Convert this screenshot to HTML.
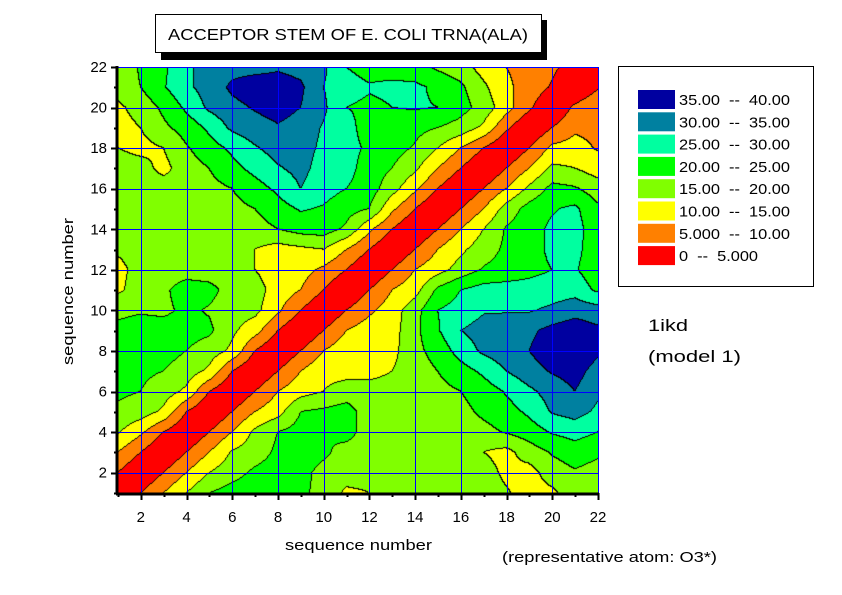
<!DOCTYPE html>
<html><head><meta charset="utf-8"><style>
html,body{margin:0;padding:0;background:#fff;}
#wrap{position:relative;width:842px;height:595px;overflow:hidden;font-family:"Liberation Sans",Arial,sans-serif;}
canvas{position:absolute;left:118px;top:67px;}
svg{position:absolute;left:0;top:0;}
</style></head><body><div id="wrap">
<canvas id="c" width="480" height="426"></canvas>
<svg width="842" height="595" xmlns="http://www.w3.org/2000/svg" font-family="Liberation Sans, Arial, sans-serif">
<g id="grid" stroke="#0000ff" stroke-width="1"></g>
<g id="ax" stroke="#000"></g>
<g id="lbl" font-size="15" fill="#000"></g>
<rect x="161" y="20" width="386" height="40" fill="#000"/>
<rect x="155.5" y="14.5" width="386" height="38" fill="#fff" stroke="#000"/>
<text x="168" y="40" font-size="16" textLength="360" lengthAdjust="spacingAndGlyphs">ACCEPTOR STEM OF E. COLI TRNA(ALA)</text>
<rect x="618.5" y="66.5" width="195" height="220" fill="#fff" stroke="#000"/>
<g id="leg" font-size="15"></g>
<text x="285" y="550" font-size="15" textLength="147" lengthAdjust="spacingAndGlyphs">sequence number</text>
<text transform="translate(73,365) rotate(-90)" font-size="15" textLength="147" lengthAdjust="spacingAndGlyphs">sequence number</text>
<text x="648" y="331" font-size="17" textLength="40" lengthAdjust="spacingAndGlyphs">1ikd</text>
<text x="648" y="362" font-size="17" textLength="93" lengthAdjust="spacingAndGlyphs">(model 1)</text>
<text x="502" y="562" font-size="15" textLength="215" lengthAdjust="spacingAndGlyphs">(representative atom: O3*)</text>
</svg>
</div>
<script>
var M=[
[17,20.5,24,29,32,33,33,34,33,31,25,23,23,22,19,17,13,10,8,6,3,0],
[17,20,24.5,29,32,36,38,38,36,30,27,25.5,26,26,24,21,16,11,8,4.5,0,4.5],
[14,17,21,26,31,33.5,35.5,37,35,31,25,24,25,25.5,25,22,18,12,6,0,6,9],
[13,15,19,22,26,31,33,34.5,33,29.5,27,22.5,22.5,21.5,20,18,14,6,0,5,9,8.5],
[15,13.5,15,19.5,23,26,29.5,32,32,29,27,24,22,19.5,15,10,5,0,5,11,12,9.5],
[17.5,17,13.5,17.5,20,23.5,26.5,29.5,31.5,28,27,22.5,20,16,10,5,0,5,10,16,15,12.5],
[17.5,17.5,17.5,17.5,18.5,20,23,26,30,27,25,22.5,17,11,5,0,5,10,16,21.5,20.5,17.5],
[17.5,17.5,17.5,17.5,17.5,18.5,20,23,25.5,24.5,22,20,11,5,0,5,10,17,22,24.5,26,21],
[17.5,17.5,17.5,17.5,17.5,17.5,18,20,22,22.5,19,11,5,0,5,10,15,20.5,23,26,27,22],
[16,17.5,17.5,17.5,17.5,17.5,15,13,14,15,10,5,0,5,10,14,17.5,21,23,26,26.5,22],
[13,17.5,17.5,17.5,17.5,17.5,15,12.5,12,9,5,0,5,10,13,17,20.5,22,23.5,25,25.5,22],
[14,17.5,19,22.5,21.5,18,17,13,10,5,0,5,10,13,21,25,27,27,27,27.5,28,24],
[19,19.5,19,21,19.5,17.5,16.5,11,5,0,5,9,12.5,18,25,27,29.5,29.5,29.5,31,33,32],
[21,22,22,22,21,16,12,5,0,5,10,12.5,13,18.5,24.5,30,32,33,34,36.5,38,36],
[21.5,22.5,22,20,17.5,14,5,0,5,10,13,12,13.5,18.5,22,27,31,33,35,38,39,36],
[21,21,20,17.5,14,5,0,5,10,13.5,13,13,15,17.5,20,23,26,30,33,35.5,37,33],
[21,20,17.5,14,5,0,5,10,13,15,17.5,17.5,17.5,17.5,18.5,20,22.5,25.5,29,32,35,31],
[19,17.5,14,5,0,5,10,13,20,21,22,17.5,17.5,17.5,17.5,18.5,21,23,26,30.5,32,29],
[15.5,11,5,0,5,10,16,20,22,20,22,17.5,17.5,17.5,17.5,17.5,18.5,20.5,22.5,25.5,27,25],
[10,5,0,5,10,15.5,17.5,21,22.5,21,18,17.5,17.5,17.5,17.5,17.5,15,13.5,17.5,20.5,22.5,21],
[5,0,5,10,15,18,21,22.5,21.5,18.5,17.5,17,17.5,17.5,17.5,17.5,17,14,13,17.5,19.5,18],
[0,5,10,15,20,22,23,22.5,21,18.5,14,15,17,17.5,17.5,17.5,17.5,15.5,13,14,17.5,17.5]];
var cols=[[255,0,0],[255,128,0],[255,255,0],[128,255,0],[0,255,0],[0,255,160],[0,128,160],[0,0,160]];
var W=480,H=426,cv=document.getElementById('c'),ctx=cv.getContext('2d');
var img=ctx.createImageData(W,H),B=new Int8Array(W*H);
function val(gx,gy){var r=(22-gy);var i=Math.floor(gx-1),j=Math.floor(r);
if(i>20)i=20;if(j>20)j=20;if(i<0)i=0;if(j<0)j=0;var fx=gx-1-i,fy=r-j;
var a=M[j][i],b=M[j][i+1],c=M[j+1][i],d=M[j+1][i+1];
return a*(1-fx)*(1-fy)+b*fx*(1-fy)+c*(1-fx)*fy+d*fx*fy;}
for(var y=0;y<H;y++)for(var x=0;x<W;x++){var gx=1+(x+0.5)/W*21,gy=22-(y+0.5)/H*21;
var v=val(gx,gy),k=Math.floor(v/5);if(k<0)k=0;if(k>7)k=7;B[y*W+x]=k;}
for(var y=0;y<H;y++)for(var x=0;x<W;x++){var k=B[y*W+x],p=(y*W+x)*4,c=cols[k];
var e=(x<W-1&&B[y*W+x+1]!=k)||(y<H-1&&B[(y+1)*W+x]!=k);
if(e){img.data[p]=0;img.data[p+1]=0;img.data[p+2]=0;}else{img.data[p]=c[0];img.data[p+1]=c[1];img.data[p+2]=c[2];}
img.data[p+3]=255;}
ctx.putImageData(img,0,0);
var NS='http://www.w3.org/2000/svg';
function el(par,t,a,txt){var e=document.createElementNS(NS,t);for(var k in a)e.setAttribute(k,a[k]);if(txt!=null)e.textContent=txt;document.getElementById(par).appendChild(e);return e;}
function X(v){return 118+(v-1)*480/21;}function Y(v){return 493-(v-1)*426/21;}
for(var v=2;v<=22;v+=2){var px=Math.round(X(v))+0.5,py=Math.round(Y(v))+0.5;
el('grid','line',{x1:px,y1:67,x2:px,y2:493});el('grid','line',{x1:118,y1:py,x2:598,y2:py});
el('lbl','text',{x:X(v),y:522,'text-anchor':'middle'},String(v));
el('lbl','text',{x:107,y:Y(v)+5,'text-anchor':'end'},String(v));}
for(var v=1;v<=22;v++){var L=(v%2==0)?7:4,px=Math.round(X(v))+0.5,py=Math.round(Y(v))+0.5;
el('ax','line',{x1:px,y1:493,x2:px,y2:493+L,'stroke-width':2});
el('ax','line',{x1:118-L,y1:py,x2:118,y2:py,'stroke-width':2});}
el('ax','line',{x1:117,y1:66,x2:117,y2:494,'stroke-width':3});
el('ax','line',{x1:116,y1:494,x2:599,y2:494,'stroke-width':3});
var lt=['35.00  --  40.00','30.00  --  35.00','25.00  --  30.00','20.00  --  25.00','15.00  --  20.00','10.00  --  15.00','5.000  --  10.00','0  --  5.000'];
var lw=[111,111,111,111,111,111,111,79];
for(var i=0;i<8;i++){var y0=90+i*22.3;var c=cols[7-i];
el('leg','rect',{x:638,y:y0,width:37,height:19,fill:'rgb('+c.join(',')+')'});
var t=el('leg','text',{x:679,y:y0+15,textLength:lw[i],lengthAdjust:'spacingAndGlyphs'},lt[i]);
t.style.whiteSpace='pre';}
</script>
</body></html>
